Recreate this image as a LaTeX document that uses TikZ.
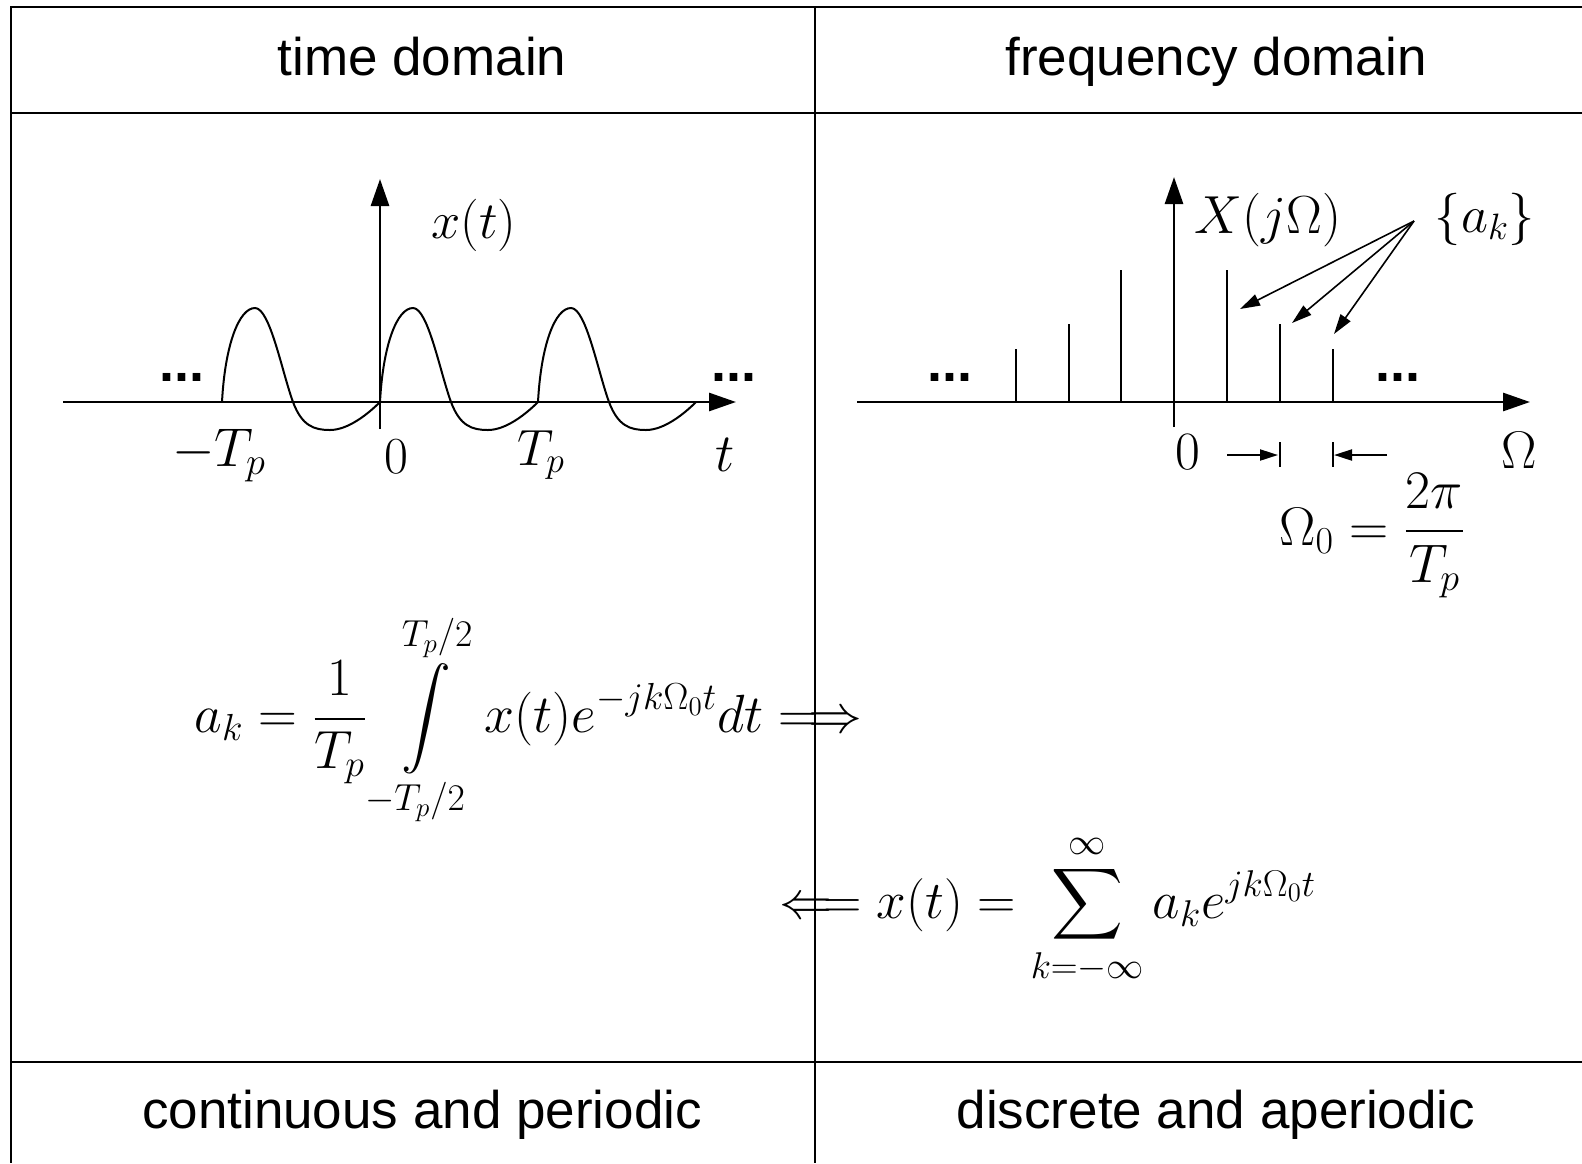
\RequirePackage{fix-cm}
\documentclass[tikz,border=0pt]{standalone}
\usepackage{amsmath}
\usepackage{fontspec}
\newfontfamily\arialfont{Liberation Sans}
\usetikzlibrary{arrows.meta}
\begin{document}
\begin{tikzpicture}[x=0.5pt,y=-0.5pt,
  rule/.style={line width=1.1pt},
  axis/.style={line width=1.4pt,-{Triangle[length=13.5pt,width=9pt]}},
  stem/.style={line width=1pt},
  wave/.style={line width=1pt},
  ptr/.style={line width=0.8pt,-{Triangle[length=10pt,width=6pt]}},
  dimarrow/.style={line width=1pt,-{Triangle[length=9pt,width=5.5pt]}},
  dimbar/.style={line width=1pt},
  head/.style={font=\arialfont\fontsize{26.5}{30}\selectfont, inner sep=0pt, anchor=base},
  lbl/.style={inner sep=0pt, anchor=base},
  dotstyle/.style={font=\arialfont\bfseries\fontsize{27}{30}\selectfont, inner sep=0pt, anchor=base},
  formula/.style={inner sep=0pt, anchor=base west},
]
\useasboundingbox (0,0) rectangle (1582,1163);

% table
\coordinate (tl) at (11,7);
\coordinate (tr) at (1582,7);
\coordinate (bl) at (11,1163);
\coordinate (hl) at (11,113);
\coordinate (hr) at (1582,113);
\coordinate (fl) at (11,1062);
\coordinate (fr) at (1582,1062);
\coordinate (mt) at (815,7);
\coordinate (mb) at (815,1163);
\draw[rule] (tr) -- (tl) -- (bl);
\draw[rule] (hl) -- (hr);
\draw[rule] (fl) -- (fr);
\draw[rule] (mt) -- (mb);

\node[head] (h1) at (422,75) {time domain};
\node[head] (h2) at (1216,75) {frequency domain};
\node[head] (f1) at (422,1128) {continuous and periodic};
\node[head] (f2) at (1216,1128) {discrete and aperiodic};

% ---------- time domain plot ----------
\foreach \px in {222,380,538}{
  \begin{scope}[shift={(\px,0)}]
    \draw[wave] (0,402) .. controls (3,345) and (17,308) .. (33,308)
      .. controls (48,308) and (60,372) .. (71,402)
      .. controls (80,426) and (92,430) .. (108,430)
      .. controls (126,430) and (146,414) .. (158,402);
  \end{scope}
}
\coordinate (tstart) at (63,402);
\coordinate (tend) at (736,402);
\draw[axis] (tstart) -- (tend);
\coordinate (xbot) at (380,429);
\coordinate (xtop) at (380,179);
\draw[axis] (xbot) -- (xtop);

\node[lbl,font=\fontsize{26.2}{30}\selectfont] (xt) at (474,238) {$x(t)$};
\node[lbl,font=\fontsize{27.3}{30}\selectfont] (mTp) at (219,466) {$-T_p$};
\node[lbl,font=\fontsize{26}{30}\selectfont] (zeroL) at (396,473) {$0$};
\node[lbl,font=\fontsize{25.5}{30}\selectfont] (Tp) at (541,465) {$T_p$};
\node[lbl,font=\fontsize{27}{30}\selectfont] (tl) at (725,471) {$t$};
\node[dotstyle] (dl1) at (182,381) {...};
\node[dotstyle] (dl2) at (734,381) {...};

% ---------- frequency domain plot ----------
\coordinate (wstart) at (857,402);
\coordinate (wend) at (1530,402);
\draw[axis] (wstart) -- (wend);
\coordinate (Xbot) at (1174,427);
\coordinate (Xtop) at (1174,177);
\draw[axis] (Xbot) -- (Xtop);
\foreach \sx/\sy [count=\i] in {1016/349,1069/324,1121/270,1227/270,1280/324,1333/349}{
  \coordinate (sb\i) at (\sx,402);
  \coordinate (st\i) at (\sx,\sy);
  \draw[stem] (sb\i) -- (st\i);
}
\node[lbl,font=\fontsize{26.8}{30}\selectfont] (XjO) at (1268,233) {$X(j\Omega)$};
\node[lbl,font=\fontsize{26.2}{30}\selectfont] (ak) at (1485,232) {$\{a_k\}$};
\coordinate (aksrc) at (1414,221);
\coordinate (tip1) at (1240,309);
\coordinate (tip2) at (1292,323);
\coordinate (tip3) at (1334,334);
\draw[ptr] (aksrc) -- (tip1);
\draw[ptr] (aksrc) -- (tip2);
\draw[ptr] (aksrc) -- (tip3);
\node[dotstyle] (dr1) at (950,381) {...};
\node[dotstyle] (dr2) at (1398,381) {...};

\node[lbl,font=\fontsize{27}{30}\selectfont] (zeroR) at (1188,469) {$0$};
\node[lbl,font=\fontsize{26.5}{30}\selectfont] (Om) at (1519,468) {$\Omega$};
\coordinate (d1s) at (1227,455);
\coordinate (d1e) at (1278,455);
\coordinate (b1t) at (1280,442);
\coordinate (b1b) at (1280,467);
\coordinate (d2s) at (1387,455);
\coordinate (d2e) at (1334,455);
\coordinate (b2t) at (1333,442);
\coordinate (b2b) at (1333,467);
\draw[dimarrow] (d1s) -- (d1e);
\draw[dimbar] (b1t) -- (b1b);
\draw[dimarrow] (d2s) -- (d2e);
\draw[dimbar] (b2t) -- (b2b);
\node[formula,font=\fontsize{27.2}{32}\selectfont] (om0) at (1279,545) {$\Omega_0=\dfrac{2\pi}{T_p}$};

% ---------- formulas ----------
\node[formula,font=\fontsize{26.9}{33}\selectfont] (fwd) at (194,732) {$\displaystyle a_k=\frac{1}{T_p}\int\limits_{-T_p/2}^{T_p/2} x(t)e^{-jk\Omega_0 t}dt\Longrightarrow$};
\node[formula,font=\fontsize{26.6}{33}\selectfont] (inv) at (779,918) {$\displaystyle \Longleftarrow x(t)=\sum_{k=-\infty}^{\infty} a_k e^{jk\Omega_0 t}$};
\end{tikzpicture}
\end{document}
